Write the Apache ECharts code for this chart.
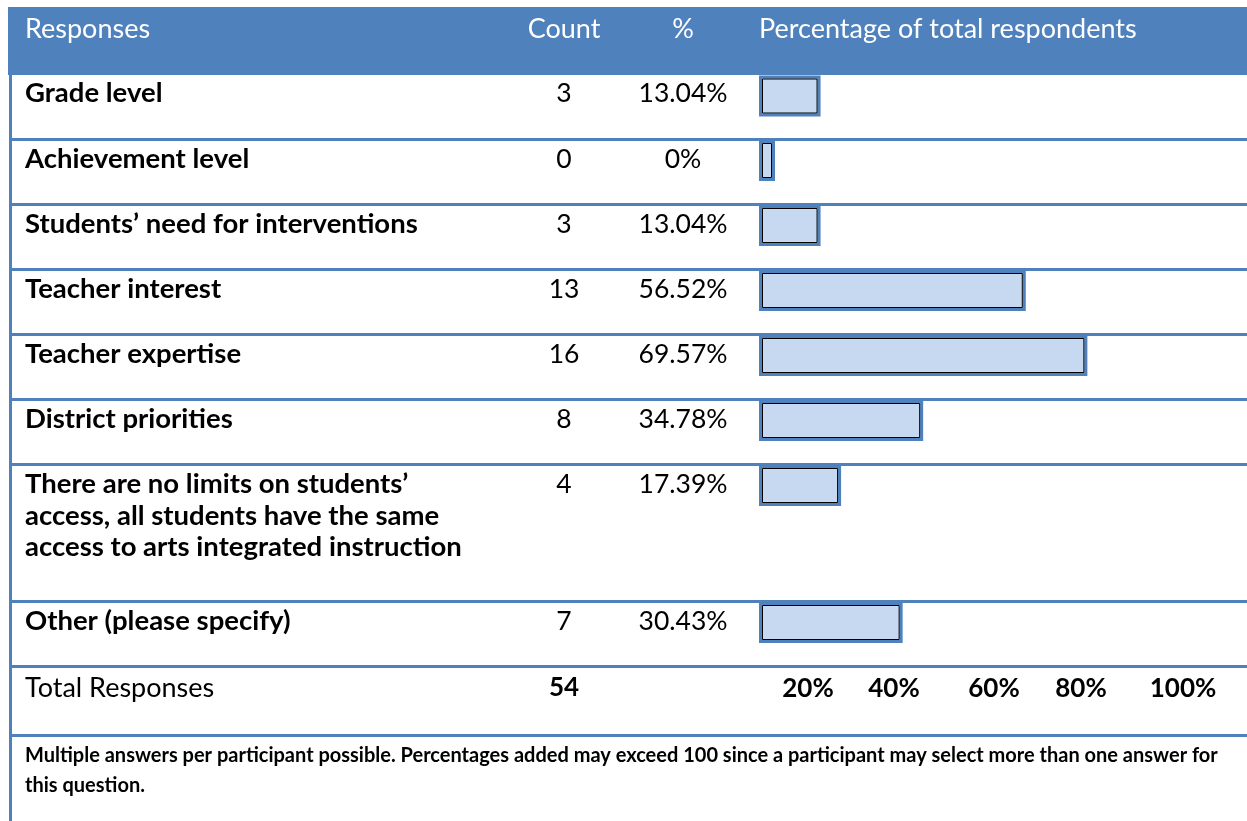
<!DOCTYPE html>
<html>
<head>
<meta charset="utf-8">
<script src="https://cdn.jsdelivr.net/npm/echarts@6/dist/echarts.min.js"></script>
<style>
  html, body { margin: 0; padding: 0; background: #fff; }
  #chart { width: 1247px; height: 821px; }
</style>
</head>
<body>
<div id="chart"></div>
<script>
// table data
const responses = [
  'Grade level',
  'Achievement level',
  'Students\u2019 need for interventions',
  'Teacher interest',
  'Teacher expertise',
  'District priorities',
  'There are no limits on students\u2019\naccess, all students have the same\naccess to arts integrated instruction',
  'Other (please specify)'
];
const counts = [3, 0, 3, 13, 16, 8, 4, 7];
const percents = [13.04, 0, 13.04, 56.52, 69.57, 34.78, 17.39, 30.43];
const totalResponses = 54;
const tickLabels = ['20%', '40%', '60%', '80%', '100%'];
const headers = ['Responses', 'Count', '%', 'Percentage of total respondents'];
const footnote = [
  'Multiple answers per participant possible. Percentages added may exceed 100 since a participant may select more than one answer for',
  'this question.'
];

// layout
const BLUE = '#4F81BD';
const FONT = 'Lato, "Liberation Sans", sans-serif';
const rowTops = [75, 139.5, 204.5, 269.5, 334.5, 399.5, 464.5, 601.5];
const totalTop = 666.5;
const footTop = 735.5;
const countX = 564;
const pctX = 683;
const barLeft = 759;
const barFull = 472;   // px for 100%
const tickX = [808, 894, 994, 1081, 1183];
const lineGap = 31.5;

const chart = echarts.init(document.getElementById('chart'));

function txt(text, x, y, opts) {
  return {
    type: 'text', z: 10, x: x, y: y,
    style: Object.assign({
      text: text, fill: '#000', font: 'normal 26.5px ' + FONT,
      align: 'left', verticalAlign: 'middle'
    }, opts || {})
  };
}

const graphics = [];
// header band
graphics.push({ type: 'rect', z: 0, shape: { x: 8, y: 7, width: 1239, height: 68 }, style: { fill: BLUE } });
const headFont = 'normal 27px ' + FONT;
graphics.push(txt(headers[0], 25, 29.5, { fill: '#fff', font: headFont }));
graphics.push(txt(headers[1], countX, 29.5, { fill: '#fff', font: headFont, align: 'center' }));
graphics.push(txt(headers[2], pctX, 29.5, { fill: '#fff', font: headFont, align: 'center' }));
graphics.push(txt(headers[3], barLeft, 29.5, { fill: '#fff', font: headFont }));

// left border and row separators
graphics.push({ type: 'line', z: 1, shape: { x1: 10.5, y1: 75, x2: 10.5, y2: 821 }, style: { stroke: BLUE, lineWidth: 3 } });
rowTops.slice(1).concat([totalTop, footTop]).forEach(function (y) {
  graphics.push({ type: 'line', z: 1, shape: { x1: 9, y1: y, x2: 1247, y2: y }, style: { stroke: BLUE, lineWidth: 3 } });
});

// row texts
responses.forEach(function (label, i) {
  const mid = rowTops[i] + (i === 0 ? 18.5 : 20);
  label.split('\n').forEach(function (line, k) {
    graphics.push(txt(line, 25, mid + k * lineGap, { font: 'bold 27.5px ' + FONT }));
  });
  graphics.push(txt(String(counts[i]), countX, mid, { align: 'center' }));
  graphics.push(txt(percents[i] + '%', pctX, mid, { align: 'center' }));
});

// total row
graphics.push(txt('Total Responses', 25, totalTop + 21.5, { font: 'normal 27px ' + FONT }));
graphics.push(txt(String(totalResponses), countX, totalTop + 21.5, { font: 'bold 26px ' + FONT, align: 'center' }));
tickLabels.forEach(function (t, i) {
  graphics.push(txt(t, tickX[i], totalTop + 22, { font: 'bold 26px ' + FONT, align: 'center' }));
});

// footnote
footnote.forEach(function (line, k) {
  graphics.push(txt(line, 25, footTop + 20 + k * 30, { font: 'bold 20px ' + FONT }));
});

function renderBar(params, api) {
  const start = api.coord([0, api.value(1)]);
  const end = api.coord([api.value(0), api.value(1)]);
  const h = api.size([0, 1])[1];
  const w = Math.max(end[0] - start[0], 16);
  const x = start[0];
  const y = start[1] - h / 2;
  return {
    type: 'group',
    children: [
      { type: 'rect', shape: { x: x + 1.5, y: y + 1.5, width: w - 3, height: h - 3 },
        style: { fill: '#C6D9F1', stroke: BLUE, lineWidth: 3 } },
      { type: 'rect', shape: { x: x + 3.5, y: y + 3.5, width: w - 7, height: h - 7 },
        style: { fill: 'none', stroke: '#000', lineWidth: 1 } }
    ]
  };
}

const grids = [], xAxes = [], yAxes = [], series = [];
responses.forEach(function (label, i) {
  grids.push({ left: barLeft, top: rowTops[i] + 0.5, width: barFull, height: 41 });
  xAxes.push({ gridIndex: i, type: 'value', min: 0, max: 100, show: false });
  yAxes.push({ gridIndex: i, type: 'category', data: [label], show: false });
  series.push({
    type: 'custom', xAxisIndex: i, yAxisIndex: i, z: 5,
    renderItem: renderBar,
    data: [[percents[i], 0]],
    silent: true
  });
});

chart.setOption({
  animation: false,
  backgroundColor: '#fff',
  grid: grids,
  xAxis: xAxes,
  yAxis: yAxes,
  graphic: graphics,
  series: series
});
</script>
</body>
</html>
